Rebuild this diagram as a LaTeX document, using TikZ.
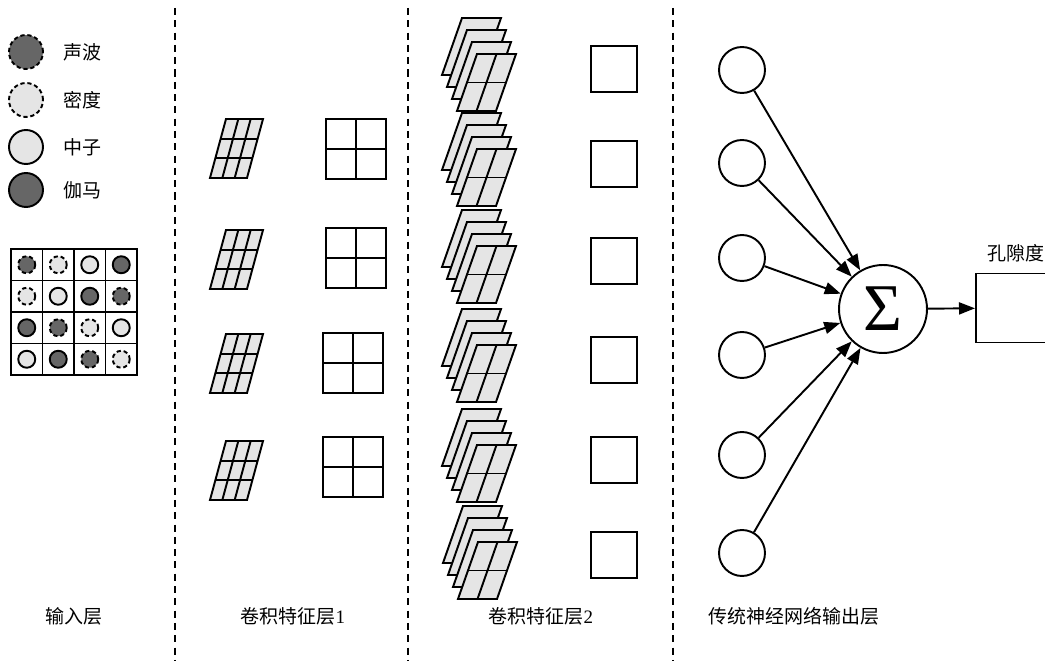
\documentclass[tikz,border=0pt]{standalone}
\usepackage{fontspec}
\newfontfamily\cjk{Noto Sans CJK SC}
\newfontfamily\tnr{Liberation Serif}
\usetikzlibrary{arrows.meta,positioning}
\definecolor{darkfill}{gray}{0.4}
\definecolor{lightfill}{gray}{0.9}
\tikzset{
    sonic/.style = {draw, fill=darkfill, dash pattern=on 2.4pt off 1.6pt},
    dens/.style = {draw, fill=lightfill, dash pattern=on 2.4pt off 1.6pt},
    neut/.style = {draw, fill=lightfill},
    gam/.style = {draw, fill=darkfill},
    legend/.style = {circle, minimum size=0.68cm, inner sep=0pt},
    lab/.style = {font=\cjk\fontsize{10.8}{12}\selectfont},
    divider/.style = {line width=1.2pt, dash pattern=on 4pt off 3pt},
    neuron/.style = {circle, draw, minimum size=0.92cm, inner sep=0pt},
    syn/.style = {-{Triangle[length=3.2mm,width=2.4mm]}},
    pics/kernel/.style = {
        code = {%
        \draw[fill=lightfill] (0,0) -- (37,0) -- (53,-59) -- (16,-59) -- cycle;
        \draw (12.33,0) -- (28.33,-59);
        \draw (24.67,0) -- (40.67,-59);
        \draw (5.33,-19.67) -- (42.33,-19.67);
        \draw (10.67,-39.33) -- (47.67,-39.33);
        }
    },
    pics/pool/.style = {
        code = {%
        \draw (0,0) rectangle (60,60);
        \draw (30,0) -- (30,60);
        \draw (0,30) -- (60,30);
        }
    },
    pics/stack/.style = {
        code = {%
        \draw[fill=lightfill] (0,0) -- (39,0) -- (59,-57) -- (20,-57) -- cycle;
        \draw[fill=lightfill] (5,12) -- (44,12) -- (64,-45) -- (25,-45) -- cycle;
        \draw[fill=lightfill] (10,24) -- (49,24) -- (69,-33) -- (30,-33) -- cycle;
        \draw[fill=lightfill] (15,36) -- (54,36) -- (74,-21) -- (35,-21) -- cycle;
        \draw (34.5,36) -- (54.5,-21);
        \draw (25,7.5) -- (64,7.5);
        }
    },
}
\begin{document}
\begin{tikzpicture}[x=0.02cm,y=-0.02cm,line width=1.1pt]
\useasboundingbox (0,0) rectangle (1045,661);

\draw[divider] (175,8) -- (175,661);
\draw[divider] (408,8) -- (408,661);
\draw[divider] (673,8) -- (673,661);

\begin{scope}
\node[legend,sonic] (lg1) at (26,52) {};
\node[lab,right=0.25cm of lg1] (lt1) {声波};
\node[legend,dens] (lg2) at (26,100) {};
\node[lab,right=0.25cm of lg2] (lt2) {密度};
\node[legend,neut] (lg3) at (26,147) {};
\node[lab,right=0.25cm of lg3] (lt3) {中子};
\node[legend,gam] (lg4) at (26,190) {};
\node[lab,right=0.25cm of lg4] (lt4) {伽马};

\draw (11,249) rectangle (137,375);
\draw (42.5,249) -- (42.5,375);
\draw (74,249) -- (74,375);
\draw (105.5,249) -- (105.5,375);
\draw (11,280.5) -- (137,280.5);
\draw (11,312) -- (137,312);
\draw (11,343.5) -- (137,343.5);

\draw[sonic] (26.75,264.75) circle[radius=8.5];
\draw[dens] (58.25,264.75) circle[radius=8.5];
\draw[neut] (89.75,264.75) circle[radius=8.5];
\draw[gam] (121.25,264.75) circle[radius=8.5];
\draw[dens] (26.75,296.25) circle[radius=8.5];
\draw[neut] (58.25,296.25) circle[radius=8.5];
\draw[gam] (89.75,296.25) circle[radius=8.5];
\draw[sonic] (121.25,296.25) circle[radius=8.5];
\draw[gam] (26.75,327.75) circle[radius=8.5];
\draw[sonic] (58.25,327.75) circle[radius=8.5];
\draw[dens] (89.75,327.75) circle[radius=8.5];
\draw[neut] (121.25,327.75) circle[radius=8.5];
\draw[neut] (26.75,359.25) circle[radius=8.5];
\draw[gam] (58.25,359.25) circle[radius=8.5];
\draw[sonic] (89.75,359.25) circle[radius=8.5];
\draw[dens] (121.25,359.25) circle[radius=8.5];

\node[lab] (t1) at (74,616) {输入层};
\end{scope}

\begin{scope}
\pic at (210,178) {kernel};
\pic at (326,119) {pool};
\pic at (210,289) {kernel};
\pic at (326,228) {pool};
\pic at (210,393) {kernel};
\pic at (323,333) {pool};
\pic at (210,500) {kernel};
\pic at (323,437) {pool};

\node[lab] (t2) at (293,616) {卷积特征层{\tnr 1}};
\end{scope}

\begin{scope}
\pic at (442,75) {stack};
\draw (591,46) rectangle ++(46,46);
\pic at (442,170) {stack};
\draw (591,141) rectangle ++(46,46);
\pic at (442,267) {stack};
\draw (591,238) rectangle ++(46,46);
\pic at (442,366) {stack};
\draw (591,337) rectangle ++(46,46);
\pic at (442,466) {stack};
\draw (591,437) rectangle ++(46,46);
\pic at (443,563) {stack};
\draw (591,532) rectangle ++(46,46);

\node[lab] (t3) at (541,616) {卷积特征层{\tnr 2}};
\end{scope}

\begin{scope}
\node[neuron] (n1) at (742,70) {};
\node[neuron] (n2) at (742,163) {};
\node[neuron] (n3) at (742,258) {};
\node[neuron] (n4) at (742,355) {};
\node[neuron] (n5) at (742,455) {};
\node[neuron] (n6) at (742,553) {};
\node[circle, draw, minimum size=1.76cm, inner sep=0pt] (sum) at (883,309)
    {\tnr\fontsize{38}{40}\selectfont Σ};
\node[draw, anchor=west, minimum width=1.6cm, minimum height=1.38cm] (out) at (975,308) {};
\node[lab, above=0.08cm of out] (outlab) {孔隙度};

\draw[syn] (n1) -- (sum);
\draw[syn] (n2) -- (sum);
\draw[syn] (n3) -- (sum);
\draw[syn] (n4) -- (sum);
\draw[syn] (n5) -- (sum);
\draw[syn] (n6) -- (sum);
\draw[syn] (sum) -- (out);

\node[lab] (t4) at (794,616) {传统神经网络输出层};
\end{scope}

\end{tikzpicture}
\end{document}
